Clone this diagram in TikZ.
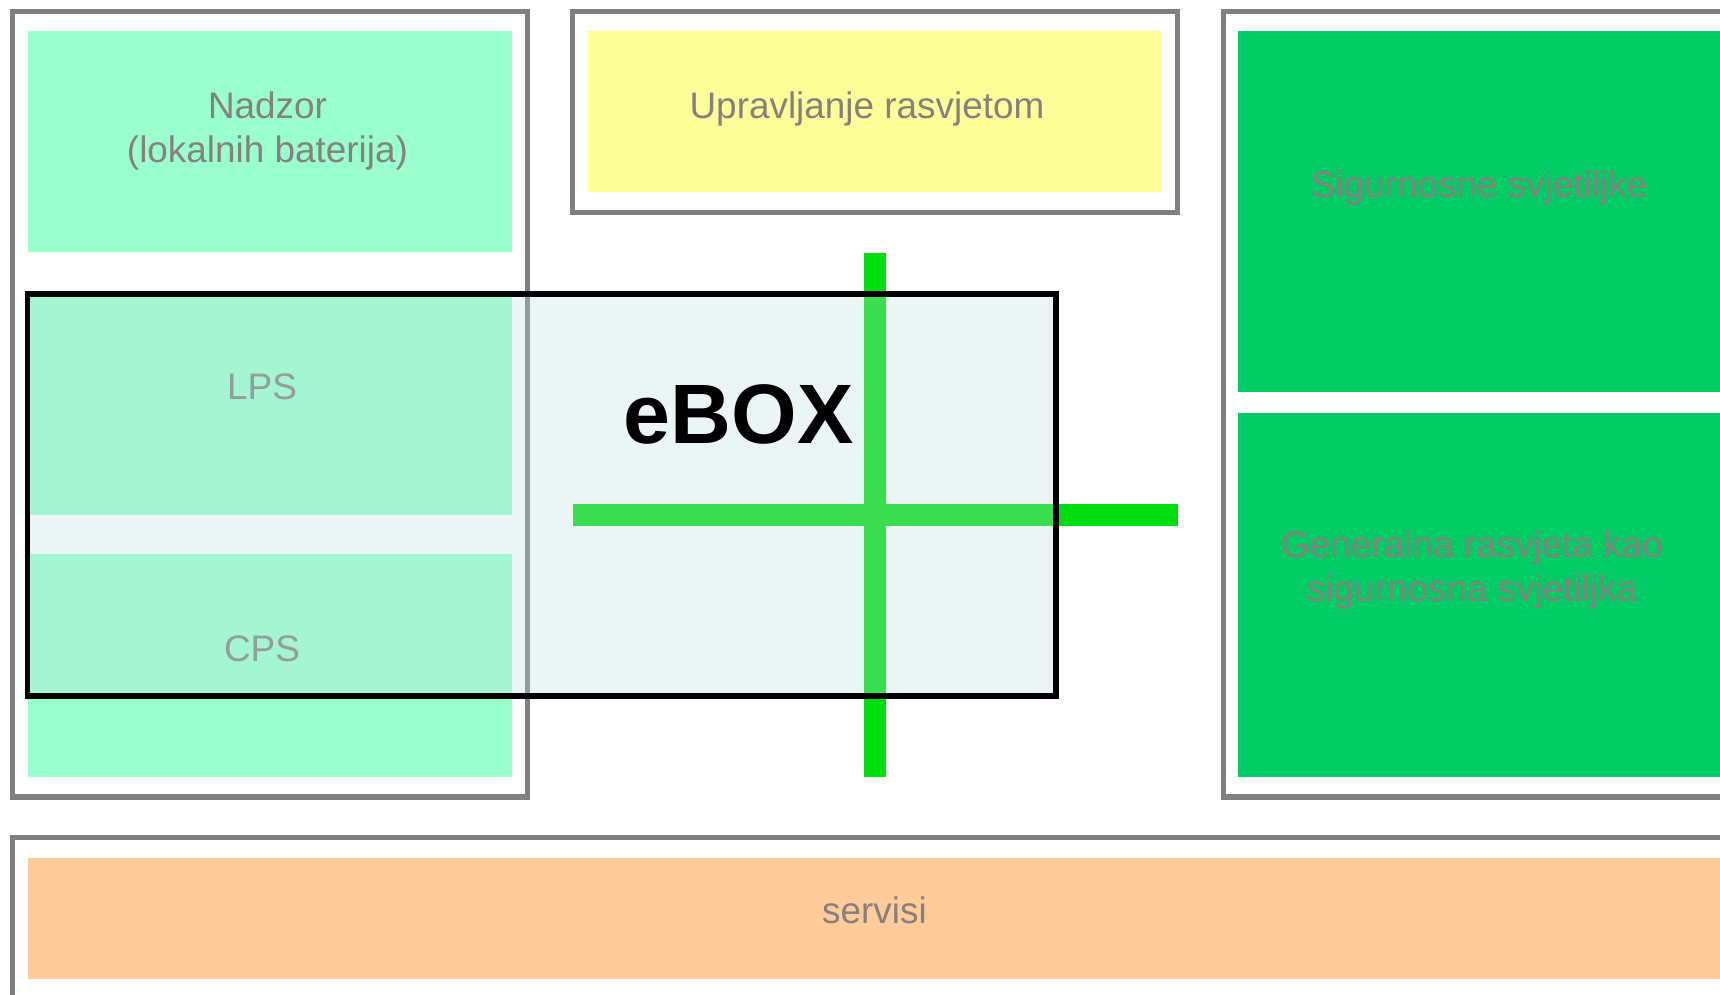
\documentclass[tikz,border=0pt]{standalone}
\usepackage{fontspec}
\setmainfont{Liberation Sans}
\definecolor{framegray}{RGB}{128,128,128}
\definecolor{txtgray}{RGB}{134,128,128}
\definecolor{mintfill}{RGB}{153,255,204}
\definecolor{yelfill}{RGB}{255,255,153}
\definecolor{grnfill}{RGB}{0,204,102}
\definecolor{orngfill}{RGB}{255,204,153}
\definecolor{busgreen}{RGB}{0,221,17}
\definecolor{eboxfill}{RGB}{190,222,222}

\begin{document}
\begin{tikzpicture}[
    box/.style   = {rectangle, inner sep=0pt, outer sep=0pt},
    frame/.style = {box, draw=framegray, line width=2.85pt},
    mint/.style  = {box, fill=mintfill},
    yel/.style   = {box, fill=yelfill},
    grn/.style   = {box, fill=grnfill},
    orng/.style  = {box, fill=orngfill},
    lbl/.style   = {font=\fontsize{21}{25}\selectfont, text=txtgray, align=center},
    bus/.style   = {draw=busgreen, line width=0.44cm},
    ebox/.style  = {box, draw=black, line width=3.2pt, fill=eboxfill, fill opacity=0.3},
]

\path[use as bounding box] (0,0) rectangle (34.4,-19.9);
\clip (0,0) rectangle (34.4,-19.9);

%% ---- Coloured blocks ----

\node[mint, minimum width=9.69cm, minimum height=4.43cm]  (nadzor) at (5.395,-2.835) {};
\node[mint, minimum width=9.69cm, minimum height=4.43cm]  (lps)    at (5.395,-8.095) {};
\node[mint, minimum width=9.69cm, minimum height=4.45cm]  (cps)    at (5.395,-13.305) {};
\node[yel,  minimum width=11.47cm, minimum height=3.23cm] (upr)    at (17.495,-2.235) {};
\node[grn,  minimum width=9.64cm, minimum height=7.23cm]  (sig)    at (29.58,-4.235) {};
\node[grn,  minimum width=9.64cm, minimum height=7.26cm]  (gen)    at (29.58,-11.90) {};
\node[orng, minimum width=33.85cm, minimum height=2.41cm] (serv)   at (17.475,-18.365) {};

%% ---- Gray frames ----

\node[frame, minimum width=10.29cm, minimum height=15.71cm] (leftframe)  at (5.395,-8.085) {};
\node[frame, minimum width=12.09cm, minimum height=4.02cm]  (midframe)   at (17.495,-2.24) {};
\node[frame, minimum width=11.08cm, minimum height=15.71cm] (rightframe) at (30.0,-8.085) {};
\node[frame, minimum width=35.30cm, minimum height=5.0cm]   (botframe)   at (17.9,-19.25) {};

%% ---- Green bus ----

\coordinate (busN) at (17.50,-5.06);
\coordinate (busS) at (17.50,-15.53);
\coordinate (busW) at (11.45,-10.30);
\coordinate (busE) at (23.55,-10.30);

\draw[bus] (busN) -- (busS);
\draw[bus] (busW) -- (busE);

%% ---- Texts ----

\node[lbl] (nadzor-t) at (5.35,-2.61)  {Nadzor\\(lokalnih baterija)};
\node[lbl] (lps-t)    at (5.24,-7.74)  {LPS};
\node[lbl] (cps-t)    at (5.24,-12.97) {CPS};
\node[lbl] (upr-t)    at (17.34,-2.18) {Upravljanje rasvjetom};
\node[lbl] (sig-t)    at (29.58,-3.76) {Sigurnosne svjetiljke};
\node[lbl] (gen-t)    at (29.44,-11.39) {Generalna rasvjeta kao\\sigurnosna svjetiljka};
\node[lbl] (serv-t)   at (17.49,-18.21) {servisi};

%% ---- eBOX overlay ----

\node[ebox, minimum width=20.57cm, minimum height=8.04cm] (ebox) at (10.835,-9.90) {};
\node[font=\fontsize{48}{48}\selectfont\bfseries] (ebox-t) at (14.77,-8.29) {eBOX};

\end{tikzpicture}
\end{document}
